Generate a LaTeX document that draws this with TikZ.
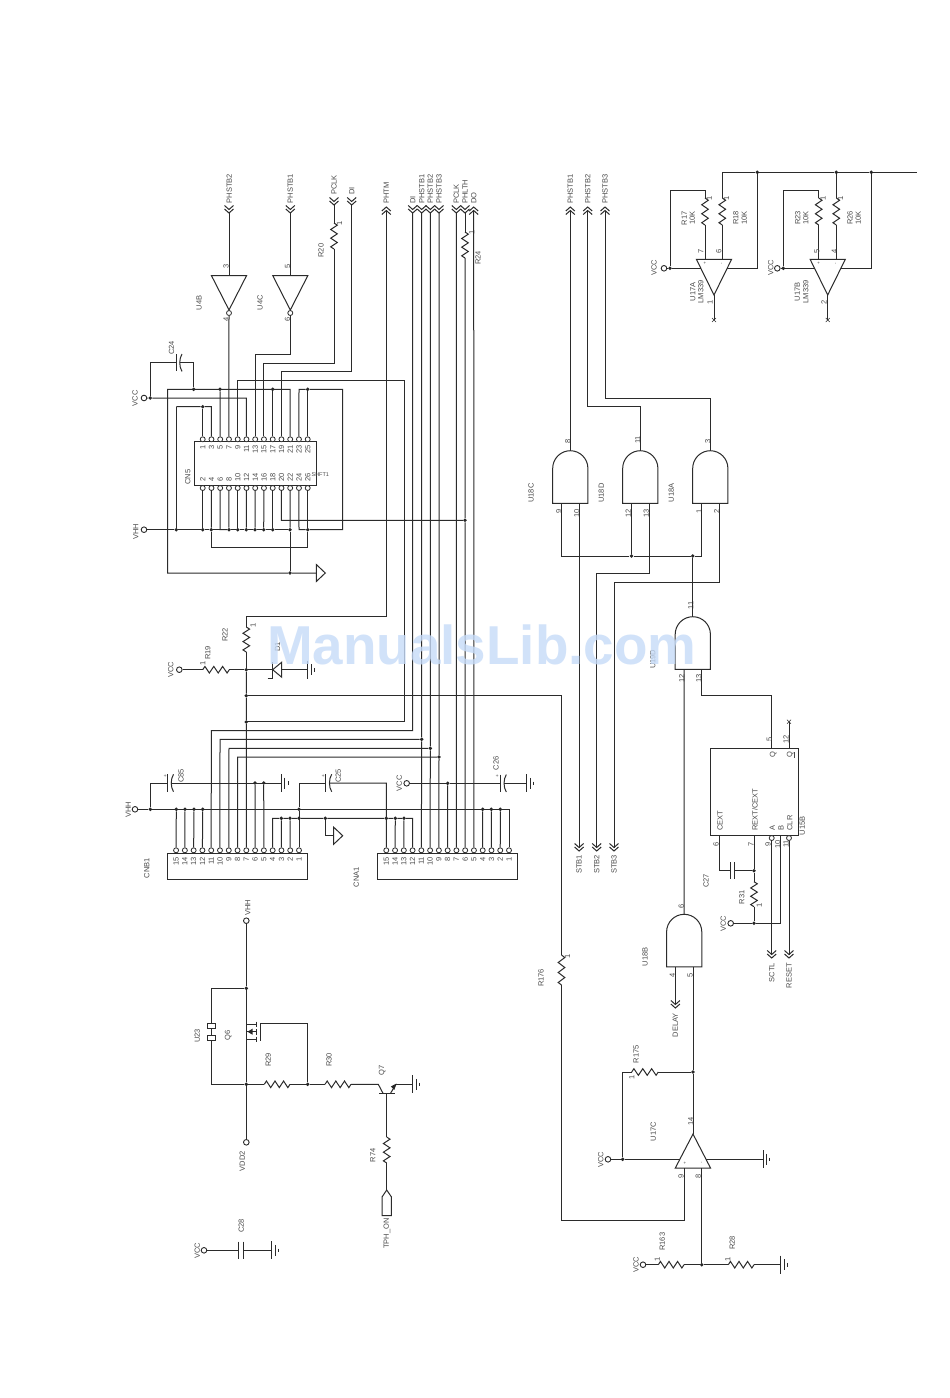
\documentclass[tikz,border=0pt]{standalone}
\usepackage{fontspec}
\setmainfont{Liberation Sans}
\definecolor{wirec}{HTML}{2b2b2b}
\definecolor{txtc}{HTML}{4a4a4a}
\definecolor{markc}{HTML}{C6DBF8}
\newcounter{lc}
\tikzset{
  w/.style={line width=1pt,draw=wirec,line join=miter},
  lbl/.style={rotate=90,inner sep=0pt,font=\fontsize{7.5}{8}\selectfont,text=txtc},
  pinc/.style={circle,draw=wirec,line width=.8pt,fill=white,inner sep=0pt,minimum size=5pt},
  jdot/.style={circle,fill=black!85,inner sep=0pt,minimum size=3.8pt},
  port/.style={circle,draw=wirec,line width=.9pt,fill=white,inner sep=0pt,minimum size=5.6pt},
}
% text label: [anchor]{x,y}{text}
\newcommand\lab[3][center]{\stepcounter{lc}\node[lbl,anchor=#1] (lab\thelc) at (#2) {#3};}
% junctions
\newcommand\JN[2]{\node[jdot] (#1) at (#2) {};}
\newcommand\PT[2]{\node[port] (#1) at (#2) {};}
\newcommand\CO[2]{\coordinate (#1) at (#2);}
% chevrons
\newcommand\chevs[3]{% x, tip y, dir (1 = tip down, -1 = tip up)
  \pgfmathsetmacro\cha{#2-4*#3}\pgfmathsetmacro\chb{#2-3.5*#3}\pgfmathsetmacro\chc{#2-7.5*#3}%
  \pgfmathsetmacro\chl{#1-4.5}\pgfmathsetmacro\chr{#1+4.5}%
  \draw[w] (\chl,\cha)--(#1,#2)--(\chr,\cha) (\chl,\chc)--(#1,\chb)--(\chr,\chc);}
\newcommand\chevtop[3]{\chevs{#2}{#3}{1}\CO{#1}{#2,#3}}
\newcommand\chevup[3]{\chevs{#2}{#3}{-1}\pgfmathsetmacro\chw{#3+3.5}\CO{#1}{#2,\chw}}
\newcommand\chevbot[3]{\chevs{#2}{#3}{1}\pgfmathsetmacro\chw{#3-3.5}\CO{#1}{#2,\chw}}
% resistors
\newcommand\vres[4]{% name x y1 y2
  \pgfmathsetmacro\rl{(#4-#3)/12}\pgfmathsetmacro\xa{#2+3.3}\pgfmathsetmacro\xb{#2-3.3}%
  \CO{#1a}{#2,#3}\CO{#1b}{#2,#4}%
  \draw[w] (#2,#3) -- (\xa,#3+\rl) -- (\xb,#3+3*\rl) -- (\xa,#3+5*\rl) -- (\xb,#3+7*\rl) -- (\xa,#3+9*\rl) -- (\xb,#3+11*\rl) -- (#2,#4);}
\newcommand\hres[4]{% name y x1 x2
  \pgfmathsetmacro\rl{(#4-#3)/12}\pgfmathsetmacro\xa{#2-3.3}\pgfmathsetmacro\xb{#2+3.3}%
  \CO{#1a}{#3,#2}\CO{#1b}{#4,#2}%
  \draw[w] (#3,#2) -- (#3+\rl,\xa) -- (#3+3*\rl,\xb) -- (#3+5*\rl,\xa) -- (#3+7*\rl,\xb) -- (#3+9*\rl,\xa) -- (#3+11*\rl,\xb) -- (#4,#2);}
% ground with plates
\newcommand\gnd[3]{\CO{#1}{#2,#3}%
  \draw[w] (#2,#3-9)--(#2,#3+9) (#2+3.4,#3-5.5)--(#2+3.4,#3+5.5);
  \draw[w,line width=.7pt] (#2+6.6,#3-1.8)--(#2+6.6,#3+1.8);}
% triangle ground pointing right
\newcommand\tgnd[3]{\CO{#1}{#2,#3}\draw[w] (#2,#3-8.5)--(#2+9,#3)--(#2,#3+8.5)--cycle;}
% polar cap
\newcommand\pcap[3]{\CO{#1a}{#2,#3}\CO{#1b}{#2+3.6,#3}%
  \draw[w] (#2,#3-8.7)--(#2,#3+8.7);
  \draw[w] (#2+6,#3-8.7) .. controls (#2+3,#3-4) and (#2+3,#3+4) .. (#2+6,#3+8.7);}
\newcommand\scap[3]{\CO{#1a}{#2,#3}\CO{#1b}{#2+4.3,#3}%
  \draw[w] (#2,#3-8.7)--(#2,#3+8.7) (#2+4.3,#3-8.7)--(#2+4.3,#3+8.7);}
% triangle amplifier / inverter: name x ybase yapex
\newcommand\tri[4]{\CO{#1}{#2,#4}\draw[w,fill=white] (#2-17.6,#3)--(#2+17.6,#3)--(#2,#4)--cycle;}
% AND gate: name cx ytop
\newcommand\gate[3]{%
  \pgfmathsetmacro\gxl{#2-17.6}\pgfmathsetmacro\gxr{#2+17.6}\pgfmathsetmacro\gyc{#3+17.6}%
  \pgfmathsetmacro\gyb{#3+52.6}\pgfmathsetmacro\gxa{#2-9.7}\pgfmathsetmacro\gxc{#2+9.7}\pgfmathsetmacro\gya{#3+7.9}%
  \pgfmathsetmacro\gpl{#2-8.8}\pgfmathsetmacro\gpr{#2+8.8}%
  \CO{#1t}{#2,#3}\CO{#1l}{\gpl,\gyb}\CO{#1r}{\gpr,\gyb}%
  \draw[w] (\gxl,\gyb)--(\gxl,\gyc) .. controls (\gxl,\gya) and (\gxa,#3) .. (#2,#3) .. controls (\gxc,#3) and (\gxr,\gya) .. (\gxr,\gyc)--(\gxr,\gyb)--cycle;}
\newcommand\xend[2]{\draw[w,line width=.5pt] (#1-2,#2-2)--(#1+2,#2+2) (#1-2,#2+2)--(#1+2,#2-2);}
\begin{document}
\begin{tikzpicture}[x=1pt,y=-1pt]
\useasboundingbox (0,0) rectangle (950,1398);
\fill[white] (0,0) rectangle (950,1398);

%=========== CN5
\draw[w] (194,441.7) rectangle (316.7,485.7);
\foreach \n in {1,3,...,25}{
  \pgfmathsetmacro\xx{202.7+8.75*(\n-1)/2}
  \node[pinc] (t\n) at (\xx,439.3) {};
  \lab[east]{\xx,445}{\n}
}
\foreach \n in {2,4,...,26}{
  \pgfmathsetmacro\xx{202.7+8.75*(\n-2)/2}
  \node[pinc] (t\n) at (\xx,488) {};
  \lab[west]{\xx,481.7}{\n}
}
\lab{187.7,477}{CN5}
\node[lbl,rotate=-90,font=\fontsize{5.5}{6}\selectfont] (shift) at (320.3,475) {SHFT1};

%=========== CNB1 / CNA1
\draw[w] (167.7,853) rectangle (307.7,879.3);
\foreach \n in {1,...,15}{
  \pgfmathsetmacro\xx{299-8.78*(\n-1)}
  \node[pinc] (nb\n) at (\xx,850.3) {};
  \lab[east]{\xx,856.7}{\n}
}
\draw[w] (377.7,853) rectangle (517.7,879.3);
\foreach \n in {1,...,15}{
  \pgfmathsetmacro\xx{509-8.765*(\n-1)}
  \node[pinc] (na\n) at (\xx,850.3) {};
  \lab[east]{\xx,856.7}{\n}
}
\lab{146.7,868.3}{CNB1}
\lab{356.3,877}{CNA1}

%=========== top connectors
\chevtop{cPB2}{229}{213}\lab[west]{229.3,203.5}{PHSTB2}
\chevtop{cPB1}{290.3}{213}\lab[west]{290.3,203.5}{PHSTB1}
\chevtop{cCLK}{334}{205}\lab[west]{334,195}{PCLK}
\chevtop{cDIa}{351.7}{205}\lab[west]{351.7,195}{DI}
\chevup{cTM}{386.3}{207}\lab[west]{386.3,204}{PHTM}
\chevtop{cDI}{412.7}{213}\lab[west]{412.7,204}{DI}
\chevtop{cS1}{421.7}{213}\lab[west]{421.7,204}{PHSTB1}
\chevtop{cS2}{430.3}{213}\lab[west]{430.3,204}{PHSTB2}
\chevtop{cS3}{439}{213}\lab[west]{439,204}{PHSTB3}
\chevtop{cCK}{456.3}{213}\lab[west]{456.3,204}{PCLK}
\chevtop{cLT}{465}{213}\lab[west]{465,204}{PHLTH}
\chevup{cDO}{473.7}{207}\lab[west]{473.7,204}{DO}
\chevup{rS1}{570.3}{207}\lab[west]{570.3,204}{PHSTB1}
\chevup{rS2}{587.7}{207}\lab[west]{587.7,204}{PHSTB2}
\chevup{rS3}{605}{207}\lab[west]{605,204}{PHSTB3}

%=========== inverters
\tri{u4b}{229}{275.5}{310}
\tri{u4c}{290.3}{275.5}{310}
\node[pinc] (u4bo) at (229,313) {};
\node[pinc] (u4co) at (290.3,313) {};
\CO{u4bi}{229,275.5}\CO{u4ci}{290.3,275.5}
\draw[w] (cPB2)--(u4bi);
\draw[w] (cPB1)--(u4ci);
\lab{226,266.7}{3}\lab{226,319}{4}\lab{287.5,266.7}{5}\lab{287.5,319}{6}
\lab{199,302.7}{U4B}\lab{260,302.7}{U4C}
\draw[w] (u4bo)--(t7);
\draw[w] (u4co)--(290.3,354)-|(t13);

%=========== R20, DI
\vres{r20}{334}{223}{249}
\lab{321,250.7}{R20}\lab{339.5,223}{1}
\draw[w] (cCLK)--(r20a);
\draw[w] (r20b)--(334,363)-|(t15);
\draw[w] (cDIa)--(351.7,371.7)-|(t19);

%=========== CN5 power
\PT{vccA}{144,398}\lab{135,398.3}{VCC}
\JN{jA1}{150.3,398}
\draw[w] (vccA)--(jA1)--(246.3,398)--(t11);
\pcap{c24}{176}{362.7}
\lab{171.5,348}{C24}
\draw[w] (jA1)--(150.3,362.7)--(c24a);
\JN{j24}{193.7,389.3}
\draw[w] (c24b)--(193.7,362.7)--(j24);
\JN{jT5}{220,389.3}\JN{jT17}{272.7,389.3}\JN{jT25}{307.7,389.3}
\CO{gndL}{167.7,573}
\JN{j22b}{290,573}
\tgnd{tg1}{316.3}{573}
\draw[w] (tg1)--(j22b)--(gndL)--(167.7,389.3)--(290,389.3)--(t21);
\draw[w] (jT5)--(t5);\draw[w] (jT17)--(t17);
\JN{j406}{202.7,406.7}
\draw[w] (t1)--(j406);
\draw[w] (t3)--(211.3,406.7)--(j406)--(176.3,406.7);
\JN{jV0}{176.3,529.7}
\draw[w] (176.3,406.7)--(jV0);
\PT{vhhA}{144,529.7}\lab{135.7,531.5}{VHH}
\foreach \n/\xx in {2/202.7,4/211.3,8/229,10/237.7,12/246.3,14/255,16/263.7,18/272.7,22/290}{
  \JN{jB\n}{\xx,529.7}\draw[w] (t\n)--(jB\n);
}
\draw[w] (vhhA)--(jV0)--(jB2)--(jB4)--(jB8)--(jB10)--(jB12)--(jB14)--(jB16)--(jB18)--(jB22);
\draw[w] (t6)--(220,529.7)--(jB8);
\draw[w] (jB22)--(j22b);
\JN{jB26}{307.7,529.7}
\draw[w] (t24)--(299,529.7)--(jB26)--(342.7,529.7)--(342.7,389.3)--(jT25)--(299,389.3)--(t23);
\draw[w] (t25)--(jT25);
\draw[w] (jB4)--(211.3,547)--(307.7,547)--(jB26)--(t26);
\JN{j465}{465,520.3}
\draw[w] (t20)--(281.3,520.3)--(j465);

%=========== vertical bus
\draw[w] (t9)--(237.7,380.3)--(404.3,380.3)--(404.3,721.7)--(246.3,721.7);
\vres{r24}{465}{232}{258}
\lab{471.8,232}{1}\lab{478,258}{R24}
\draw[w] (cLT)--(r24a);
\draw[w] (r24b)--(j465)--(na6);
\draw[w] (cCK)--(na7);
\draw[w] (cDO)--(na5);
\CO{topJ}{246.3,616.7}
\draw[w] (cTM)--(386.3,616.7)--(topJ);
\vres{r22}{246.3}{627}{652}
\lab{225,635}{R22}\lab{253,625.5}{1}
\draw[w] (topJ)--(r22a);
\JN{jN}{246.3,669.7}
\draw[w] (r22b)--(jN);
\PT{vccB}{179.3,669.7}\lab{170.7,670}{VCC}
\hres{r19}{669.7}{202.7}{229.3}
\lab{207.7,653}{R19}\lab{202.7,663.5}{1}
\draw[w] (vccB)--(r19a);\draw[w] (r19b)--(jN);
\CO{dk}{272.7,669.7}
\draw[w] (jN)--(dk);
\draw[w,fill=white] (dk)--(281.7,662.2)--(281.7,677.2)--cycle;
\draw[w] (267.7,678)--(272.7,678)--(272.7,662);
\lab{277.5,647}{D1}
\gnd{g19}{307.7}{669.7}
\draw[w] (281.7,669.7)--(g19);
\JN{j695}{246.3,695.7}\JN{j722}{246.3,722}
\draw[w] (jN)--(j695)--(j722)--(nb7);

%=========== connectors to CNB1
\JN{j739}{421.7,739.3}\JN{j748}{430.3,748.3}\JN{j757}{439,757}
\draw[w] (cDI)--(412.7,730.7)--(211.3,730.7)--(nb11);
\draw[w] (cS1)--(j739)--(na11);
\draw[w] (cS2)--(j748)--(na10);
\draw[w] (cS3)--(j757)--(na9);
\draw[w] (j739)--(220,739.3)--(nb10);
\draw[w] (j748)--(229,748.3)--(nb9);
\draw[w] (j757)--(237.7,757)--(nb8);

%=========== VHH bus
\PT{vhhB}{135,809.3}\lab{128.3,810}{VHH}
\foreach \n/\xx in {15/176.3,14/185,13/194,12/202.7,1/299}{
  \JN{jb\n}{\xx,809.3}
}
\JN{jv}{150.3,809.3}
\foreach \n/\xx in {4/482.7,3/491.3,2/500.3}{
  \JN{ja\n}{\xx,809.3}
  \draw[w] (ja\n)--(na\n);
}
\draw[w] (vhhB)--(jv)--(509,809.3)--(na1);
\foreach \n in {15,14,13,12,1}{\draw[w] (jb\n)--(nb\n);}
\pcap{c85}{167.5}{783}
\lab{181,775.7}{C85}\lab[center]{165.5,776}{\fontsize{5}{5}\selectfont+}
\gnd{g85}{281.3}{783}
\JN{j6}{255,783}\JN{j5}{263.7,783}
\draw[w] (jv)--(150.3,783)--(c85a);
\draw[w] (c85b)--(g85);
\draw[w] (j6)--(nb6);\draw[w] (j5)--(nb5);
% second bus
\JN{jc3}{281.3,818.3}\JN{jc2}{290,818.3}\JN{jc1}{299,818.3}\JN{jgt}{325.3,818.3}
\JN{jd15}{386.3,818.3}\JN{jd14}{395.3,818.3}\JN{jd13}{404,818.3}
\draw[w] (nb4)--(272.7,818.3)--(jc3)--(jc2)--(jc1)--(jgt)--(jd15)--(jd14)--(jd13)--(412.7,818.3)--(na12);
\draw[w] (jc3)--(nb3);\draw[w] (jc2)--(nb2);
\draw[w] (jb1)--(jc1);
\draw[w] (jd14)--(na14);\draw[w] (jd13)--(na13);
\tgnd{tg2}{333.7}{835.7}
\draw[w] (jgt)--(325.3,835.7)--(tg2);
\pcap{c25}{325.7}{783}
\lab{338.3,775.7}{C25}\lab[center]{323.5,776}{\fontsize{5}{5}\selectfont+}
\draw[w] (jb1)--(299,783)--(c25a);
\draw[w] (c25b)--(386.3,783)--(na15);
\PT{vccC}{406.7,783.3}\lab{399.3,783.3}{VCC}
\JN{j8}{447.7,783.3}
\pcap{c26}{500.3}{783.3}
\lab{496,763.5}{C26}\lab[center]{497.5,776}{\fontsize{5}{5}\selectfont+}
\gnd{g26}{526.7}{783.3}
\draw[w] (vccC)--(j8)--(c26a);
\draw[w] (c26b)--(g26);
\draw[w] (j8)--(na8);

%=========== AND gates
\gate{gc}{570.3}{450.7}
\gate{gd}{640.3}{450.7}
\gate{ga}{710.3}{450.7}
\gate{ge}{692.8}{616.7}
\gate{gb}{684.2}{914.3}
\lab{531,493}{U18C}\lab{601.3,493}{U18D}\lab{671.3,493}{U18A}\lab{645,956.7}{U18B}
\lab[west]{652.7,669}{U19D}
\lab{567.7,441.7}{8}\lab{637.7,440}{11}\lab{707.7,441.7}{3}
\lab{558.7,511}{9}\lab{576.7,513}{10}\lab{628.3,513}{12}\lab{646.3,513}{13}\lab{699,511}{1}\lab{716.7,511}{2}
\lab{690.7,605.7}{11}\lab{681.7,678}{12}\lab{698.7,678}{13}
\lab{681.3,906}{6}\lab{672.3,975}{4}\lab{690,975}{5}
\draw[w] (rS1)--(gct);
\draw[w] (rS2)--(587.7,406)--(640.3,406)--(gdt);
\draw[w] (rS3)--(605,398.3)--(710.3,398.3)--(gat);
\JN{j631}{631.5,556}\JN{j692}{692.8,556}
\draw[w] (gcl)--(561.5,556)--(j631)--(j692)--(701.5,556)--(gal);
\draw[w] (gdl)--(j631);
\draw[w] (j692)--(get);
\chevbot{stb1}{579.1}{851}\lab[east]{579.1,855}{STB1}
\chevbot{stb2}{596.7}{851}\lab[east]{596.7,855}{STB2}
\chevbot{stb3}{614}{851}\lab[east]{614,855}{STB3}
\draw[w] (gcr)--(stb1);
\draw[w] (gdr)--(649.1,573.3)--(596.7,573.3)--(stb2);
\draw[w] (gar)--(719.1,582)--(614,582)--(stb3);
\draw[w] (gel)--(gbt);
\CO{qp}{771.7,748.3}
\draw[w] (ger)--(701.6,695.7)--(771.7,695.7)--(qp);
\CO{r176n}{561.5,695.7}
\draw[w] (j695)--(r176n);
\vres{r176}{561.5}{955}{985}
\lab{541,978}{R176}\lab{567.5,956.5}{1}
\draw[w] (r176n)--(r176a);

%=========== flip-flop
\draw[w] (710.7,748.3) rectangle (798,835.7);
\lab[west]{720,830.7}{CEXT}\lab[west]{755,830.7}{REXT/CEXT}\lab[west]{772.3,830.7}{A}\lab[west]{781,830.7}{B}\lab[west]{789.7,830.7}{CLR}
\lab{802.3,826}{U15B}
\lab{773.3,755}{Q}\lab{790.3,755}{Q}
\draw[txtc,line width=.6pt] (794.2,752)--(794.2,758);
\lab{769.3,739.3}{5}\lab{786,739.3}{12}
\CO{qbi}{789,748.3}\CO{qbe}{789,721.7}
\draw[w] (qbi)--(qbe);\xend{789}{721.7}
\lab{716,844}{6}\lab{751,844}{7}\lab{768,844}{9}\lab{777.7,844}{10}\lab{786,844}{11}
\CO{p6}{719.3,835.7}\CO{p7}{754,835.7}\CO{pB}{780.3,835.7}
\node[pinc] (pA) at (771.7,838) {};\node[pinc] (pC) at (789,838) {};
\scap{c27}{730}{870.7}
\lab{706,880.7}{C27}
\JN{j754}{754,870.7}
\draw[w] (p6)--(719.3,870.7)--(c27a);
\draw[w] (c27b)--(j754);
\vres{r31}{754}{881.7}{906.7}
\lab{741.7,897.3}{R31}\lab{759.3,905.7}{1}
\JN{j923}{754,923.3}
\draw[w] (p7)--(j754)--(r31a);
\draw[w] (r31b)--(j923);
\PT{vccD}{730.7,923.3}\lab{723.3,924}{VCC}
\draw[w] (vccD)--(j923)--(780.3,923.3)--(pB);
\chevbot{cSC}{771.7}{958}\lab[east]{771.7,963}{SCTL}
\chevbot{cRS}{789}{958}\lab[east]{789,963}{RESET}
\draw[w] (pA)--(cSC);\draw[w] (pC)--(cRS);

%=========== DELAY / opamp C
\chevbot{cDL}{675.4}{1008}\lab[east]{675.4,1013}{DELAY}
\draw[w] (gbl)--(cDL);
\JN{j1072}{693,1072}
\CO{oapex}{693,1134}
\draw[w] (gbr)--(j1072)--(oapex);
\hres{r175}{1072}{631.7}{658.3}
\lab[west]{636,1063.5}{R175}\lab{631.7,1077.3}{1}
\JN{j1159}{622.7,1159.3}
\draw[w] (j1072)--(r175b);
\draw[w] (r175a)--(622.7,1072)--(j1159);
\PT{vccE}{608,1159.3}\lab{600.7,1160}{VCC}
\CO{oL}{680,1159.3}\CO{oR}{706,1159.3}
\gnd{g17}{763}{1159.3}
\draw[w] (oR)--(g17);
\draw[w] (vccE)--(j1159)--(oL);
\draw[w] (675.3,1168)--(710.5,1168)--(693,1134)--cycle;
\lab{653.3,1131.7}{U17C}
\lab{690.7,1121.7}{14}\lab{681,1176}{9}\lab{698.3,1176}{8}
\lab{685,1163}{\fontsize{4.5}{5}\selectfont+}\lab{702,1163}{\fontsize{4.5}{5}\selectfont-}
\CO{p9}{684.3,1168}\CO{p8}{701.7,1168}
\draw[w] (r176b)--(561.5,1220.7)--(684.3,1220.7)--(p9);
\JN{j1264}{701.7,1264.7}
\draw[w] (p8)--(j1264);
\PT{vccF}{643,1264.7}\lab{636,1265}{VCC}
\hres{r163}{1264.7}{658.3}{684}
\hres{r28}{1264.7}{728.3}{754}
\lab{662.3,1241.7}{R163}\lab{657.3,1259}{1}
\lab{732.3,1243}{R28}\lab{727.7,1259.7}{1}
\gnd{g28}{780.7}{1264.7}
\draw[w] (vccF)--(r163a);
\draw[w] (r163b)--(j1264)--(r28a);
\draw[w] (r28b)--(g28);

%=========== comparators top right
\JN{jR1}{757.3,172.3}\JN{jR2}{836.3,172.3}\JN{jR3}{871.3,172.3}
\CO{railL}{722.3,172.3}\CO{railR}{916.7,172.3}
\draw[w] (railL)--(jR1)--(jR2)--(jR3)--(railR);
\vres{r18}{722.3}{198}{225}\vres{r17}{705}{198}{225}
\vres{r26}{836.3}{198}{225}\vres{r23}{818.7}{198}{225}
\tri{u17a}{714}{259.3}{295}\tri{u17b}{827.7}{259.3}{295}
\draw[w] (railL)--(r18a);\draw[w] (jR2)--(r26a);
\draw[w] (r18b)--(722.3,259.3);\draw[w] (r17b)--(705,259.3);
\draw[w] (r26b)--(836.3,259.3);\draw[w] (r23b)--(818.7,259.3);
\JN{jVa}{670,268.3}\JN{jVb}{783.3,268.3}
\PT{vccG}{664,268.3}\PT{vccH}{777.3,268.3}
\draw[w] (vccG)--(jVa)--(701,268.3);
\draw[w] (vccH)--(jVb)--(814.6,268.3);
\draw[w] (jVa)--(670,190)--(705,190)--(r17a);
\draw[w] (jVb)--(783.3,190)--(818.7,190)--(r23a);
\draw[w] (727,268.3)--(757.3,268.3)--(jR1);
\draw[w] (841,268.3)--(871.3,268.3)--(jR3);
\CO{xA}{714,320}\CO{xB}{827.7,320}
\draw[w] (u17a)--(xA);\draw[w] (u17b)--(xB);
\xend{714}{320}\xend{827.7}{320}
\lab{709.3,198.3}{1}\lab{726.6,198.3}{1}\lab{823,198.3}{1}\lab{840.5,198.3}{1}
\lab{684.3,218.3}{R17}\lab{692.3,218}{10K}\lab{735.7,218}{R18}\lab{744.3,218}{10K}
\lab{797.7,218}{R23}\lab{805.7,218}{10K}\lab{850,218}{R26}\lab{858.3,218}{10K}
\lab{654,268}{VCC}\lab{770.7,268}{VCC}
\lab{692.7,291.7}{U17A}\lab{700.7,291.7}{LM339}\lab{797.3,291.7}{U17B}\lab{805.7,291.7}{LM339}
\lab{700.7,251}{7}\lab{718.7,251}{6}\lab{816.7,251}{5}\lab{834.3,251}{4}
\lab{710,302.7}{1}\lab{824,302.7}{2}
\lab{705,263.5}{\fontsize{4.5}{5}\selectfont+}\lab{722.5,263.5}{\fontsize{4.5}{5}\selectfont-}
\lab{818.7,263.5}{\fontsize{4.5}{5}\selectfont+}\lab{836.3,263.5}{\fontsize{4.5}{5}\selectfont-}

%=========== MOSFET block
\PT{vhhC}{246.3,920.7}\lab[west]{247.7,916}{VHH}
\PT{vdd2}{246.3,1142.3}\lab[west]{242.3,1171.5}{VDD2}
\JN{j988}{246.3,988.3}\JN{j1084}{246.3,1084.3}
\draw[w] (vhhC)--(j988)--(j1084)--(vdd2);
\draw[w] (246.3,1024)--(256.7,1024) (246.3,1039.3)--(256.7,1039.3);
\draw[w] (246.3,1031.7)--(256.7,1031.7);
\fill[black!85] (247.5,1031.7)--(252.5,1028.7)--(252.5,1034.7)--cycle;
\draw[w,line width=1.2pt] (256.7,1021.5)--(256.7,1027) (256.7,1029)--(256.7,1034.5) (256.7,1036.5)--(256.7,1042);
\CO{gQ6}{260.3,1023.3}
\JN{j307}{307.7,1084.3}
\draw[w] (260.3,1040.7)--(gQ6)--(307.7,1023.3)--(j307);
\hres{r29}{1084.3}{264.3}{290}
\hres{r30}{1084.3}{325}{351}
\draw[w] (j1084)--(r29a);\draw[w] (r29b)--(j307)--(r30a);
\CO{q7c}{378.3,1084.3}\CO{q7b}{386.7,1093.3}\CO{q7e}{396,1084.3}
\draw[w] (r30b)--(q7c)--(383,1093.3);
\draw[w] (379,1093.3)--(395,1093.3);
\draw[w] (390.5,1093.3)--(q7e);
\fill[black!85] (396.5,1083.5)--(390.8,1086.5)--(394.3,1090)--cycle;
\gnd{g7}{412.7}{1084.3}
\draw[w] (q7e)--(g7);
\vres{r74}{386.7}{1137}{1163}
\lab{372.7,1155.5}{R74}
\draw[w] (q7b)--(r74a);
\CO{tphT}{386.7,1190}
\draw[w] (r74b)--(tphT);
\draw[w] (tphT)--(391.3,1196.7)--(391.3,1215.7)--(382.2,1215.7)--(382.2,1196.7)--cycle;
\lab[east]{387,1218.3}{TPH\_ON}
% U23
\CO{u23t}{211.3,988.3}
\draw[w] (j988)--(u23t)--(211.3,1023.3);
\draw[w] (207.3,1023.3) rectangle (215.3,1028.3);
\draw[w] (207.3,1035.7) rectangle (215.3,1040.7);
\draw[w] (211.3,1028.3)--(211.3,1035.7);
\draw[w] (211.3,1040.7)--(211.3,1084.3)--(j1084);
\lab{197.3,1035.7}{U23}\lab{228.3,1035}{Q6}\lab{268.3,1060}{R29}\lab{329,1060}{R30}\lab{382.3,1070.7}{Q7}

%=========== C28
\PT{vccI}{204,1250.3}\lab{197.3,1251}{VCC}
\scap{c28}{238.7}{1250.3}
\gnd{g28b}{271.7}{1250.3}
\draw[w] (vccI)--(c28a);\draw[w] (c28b)--(g28b);
\lab{241.3,1226}{C28}

%=========== watermark
\node[anchor=base west,inner sep=0pt,font=\bfseries\fontsize{54.8}{60}\selectfont,text=markc,opacity=.8] (wm) at (267,664.7) {ManualsLib.com};
\end{tikzpicture}
\end{document}
